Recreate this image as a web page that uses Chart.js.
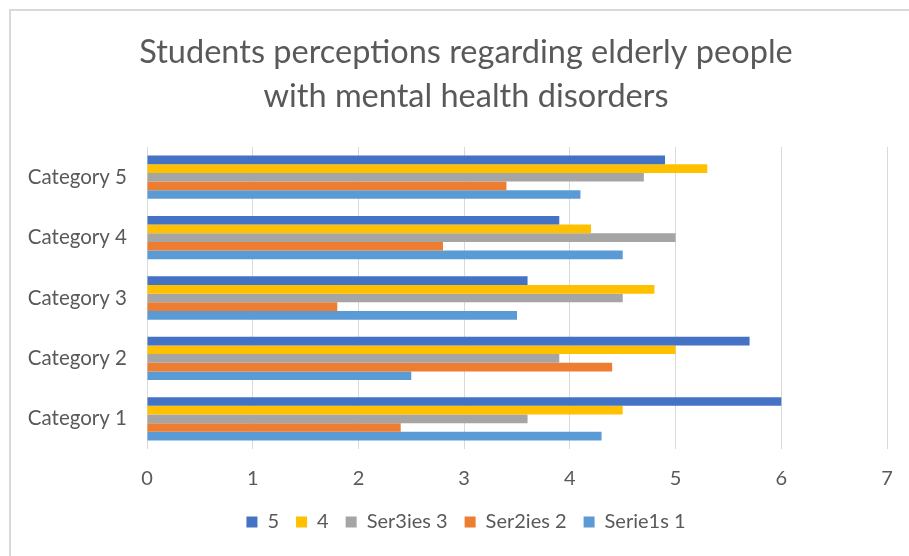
<!DOCTYPE html>
<html>
<head>
<meta charset="utf-8">
<script src="https://cdn.jsdelivr.net/npm/chart.js@4.4.1/dist/chart.umd.min.js"></script>
<style>
  html, body { margin: 0; padding: 0; background: #fff; overflow: hidden; }
  body { width: 909px; height: 556px; position: relative; }
  #frame {
    position: absolute; left: 9px; top: 9px; width: 920px; height: 560px;
    border-left: 2px solid #d9d9d9; border-top: 2px solid #d9d9d9;
  }
  #wrap { position: absolute; left: 0; top: 0; width: 910px; height: 546px; }
</style>
</head>
<body>
<div id="frame">
  <div id="wrap"><canvas id="chart"></canvas></div>
</div>
<script>
// categories bottom -> top as in the picture
const categories = ['Category 1', 'Category 2', 'Category 3', 'Category 4', 'Category 5'];
const serie1 = [4.3, 2.5, 3.5, 4.5, 4.1];
const serie2 = [2.4, 4.4, 1.8, 2.8, 3.4];
const serie3 = [3.6, 3.9, 4.5, 5.0, 4.7];
const serie4 = [4.5, 5.0, 4.8, 4.2, 5.3];
const serie5 = [6.0, 5.7, 3.6, 3.9, 4.9];
const seriesNames = ['5', '4', 'Ser3ies 3', 'Ser2ies 2', 'Serie1s 1'];
const xTicks = [0, 1, 2, 3, 4, 5, 6, 7];

const textColor = '#595959';
const fontFamily = 'Lato, "Open Sans", sans-serif';

// chart.js draws first label at the top, so flip the order
const rev = arr => arr.slice().reverse();

const datasets = [
  { label: seriesNames[0], data: rev(serie5), backgroundColor: '#4472C4' },
  { label: seriesNames[1], data: rev(serie4), backgroundColor: '#FFC000' },
  { label: seriesNames[2], data: rev(serie3), backgroundColor: '#A5A5A5' },
  { label: seriesNames[3], data: rev(serie2), backgroundColor: '#ED7D31' },
  { label: seriesNames[4], data: rev(serie1), backgroundColor: '#5B9BD5' }
];

new Chart(document.getElementById('chart'), {
  type: 'bar',
  data: { labels: rev(categories), datasets: datasets },
  options: {
    indexAxis: 'y',
    responsive: true,
    maintainAspectRatio: false,
    animation: false,
    datasets: { bar: { categoryPercentage: 0.717, barPercentage: 1.0 } },
    layout: { padding: { left: 0, right: 0, top: 0, bottom: 15 } },
    scales: {
      x: {
        min: xTicks[0],
        max: xTicks[xTicks.length - 1],
        afterBuildTicks: axis => { axis.ticks = xTicks.map(v => ({ value: v })); },
        afterFit: axis => { axis.height = 46; axis.paddingRight = 34; },
        grid: { color: '#d9d9d9', lineWidth: 1, drawTicks: false },
        border: { display: false },
        ticks: { color: textColor, font: { family: fontFamily, size: 20 }, padding: 18 }
      },
      y: {
        afterFit: axis => { axis.width = 136; },
        grid: { display: false, drawTicks: false },
        border: { display: false },
        ticks: { color: textColor, font: { family: fontFamily, size: 20.5 }, padding: 20 }
      }
    },
    plugins: {
      title: {
        display: true,
        text: ['Students perceptions regarding elderly people', 'with mental health disorders'],
        color: textColor,
        font: { family: fontFamily, size: 32.5, weight: 'normal', lineHeight: 1.354 },
        padding: { top: 20, bottom: 28 }
      },
      legend: {
        position: 'bottom',
        labels: {
          color: textColor,
          font: { family: fontFamily, size: 20 },
          boxWidth: 11,
          boxHeight: 11,
          padding: 17
        }
      },
      tooltip: { enabled: false }
    }
  }
});
</script>
</body>
</html>
